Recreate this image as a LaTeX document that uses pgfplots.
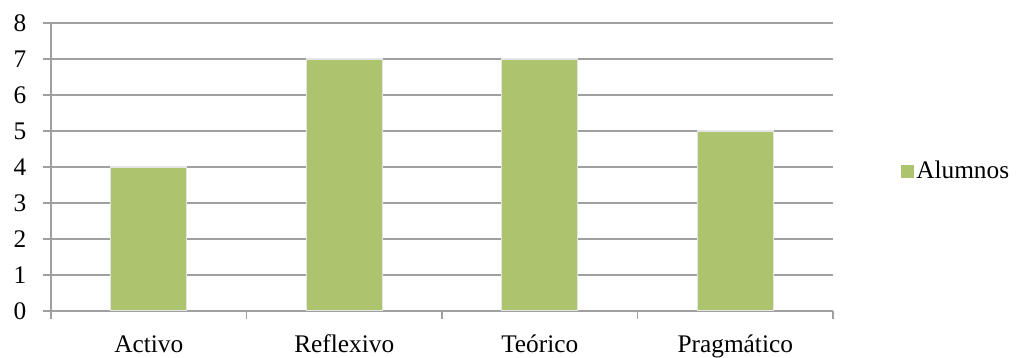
\documentclass[border=0pt]{standalone}
\usepackage{fontspec}
\setmainfont{Liberation Serif}
\usepackage{pgfplots}
\pgfplotsset{compat=1.18}
\definecolor{bargreen}{RGB}{171,196,109}
\definecolor{gridgray}{RGB}{160,160,160}
\begin{document}
\fontsize{19pt}{22pt}\selectfont
\begin{tikzpicture}
\begin{axis}[
  name=ax,
  width=586.5pt, height=216pt, scale only axis,
  xmin=0, xmax=4, ymin=0, ymax=8,
  axis x line*=bottom, axis y line*=left,
  axis line style={gridgray, line width=0.9pt, -},
  ytick={0,...,8},
  ymajorgrids, grid style={gridgray, line width=0.9pt},
  tick style={gridgray, line width=0.9pt},
  tick align=outside,
  major tick length=6pt,
  xtick={0,1,2,3,4},
  xticklabels={},
  extra x ticks={0.5,1.5,2.5,3.5},
  extra x tick labels={Activo,Reflexivo,Teórico,Pragmático},
  extra x tick style={grid=none, major tick length=0pt,
    xticklabel style={anchor=base, yshift=-31pt}},
  yticklabel style={xshift=-6pt},
  /pgf/number format/assume math mode=true,
  ticklabel style={font=\fontsize{19pt}{22pt}\selectfont},
  legend style={at={(1.086,0.483)}, anchor=west, draw=none, fill=none, inner sep=0pt,
    font=\fontsize{19pt}{22pt}\selectfont},
  legend image code/.code={\fill[bargreen] (0pt,-4.5pt) rectangle (9pt,4.5pt);},
  legend cell align=left,
]
\addplot[ybar, bar width=57pt, fill=bargreen, draw=black!10, line width=0.8pt]
  coordinates {(0.5,4) (1.5,7) (2.5,7) (3.5,5)};
\addlegendentry{Alumnos}
\end{axis}
\pgfresetboundingbox
\path[use as bounding box] ([xshift=-38.25pt,yshift=-35.25pt]ax.south west) rectangle ([xshift=141pt,yshift=17.25pt]ax.north east);
\end{tikzpicture}
\end{document}
